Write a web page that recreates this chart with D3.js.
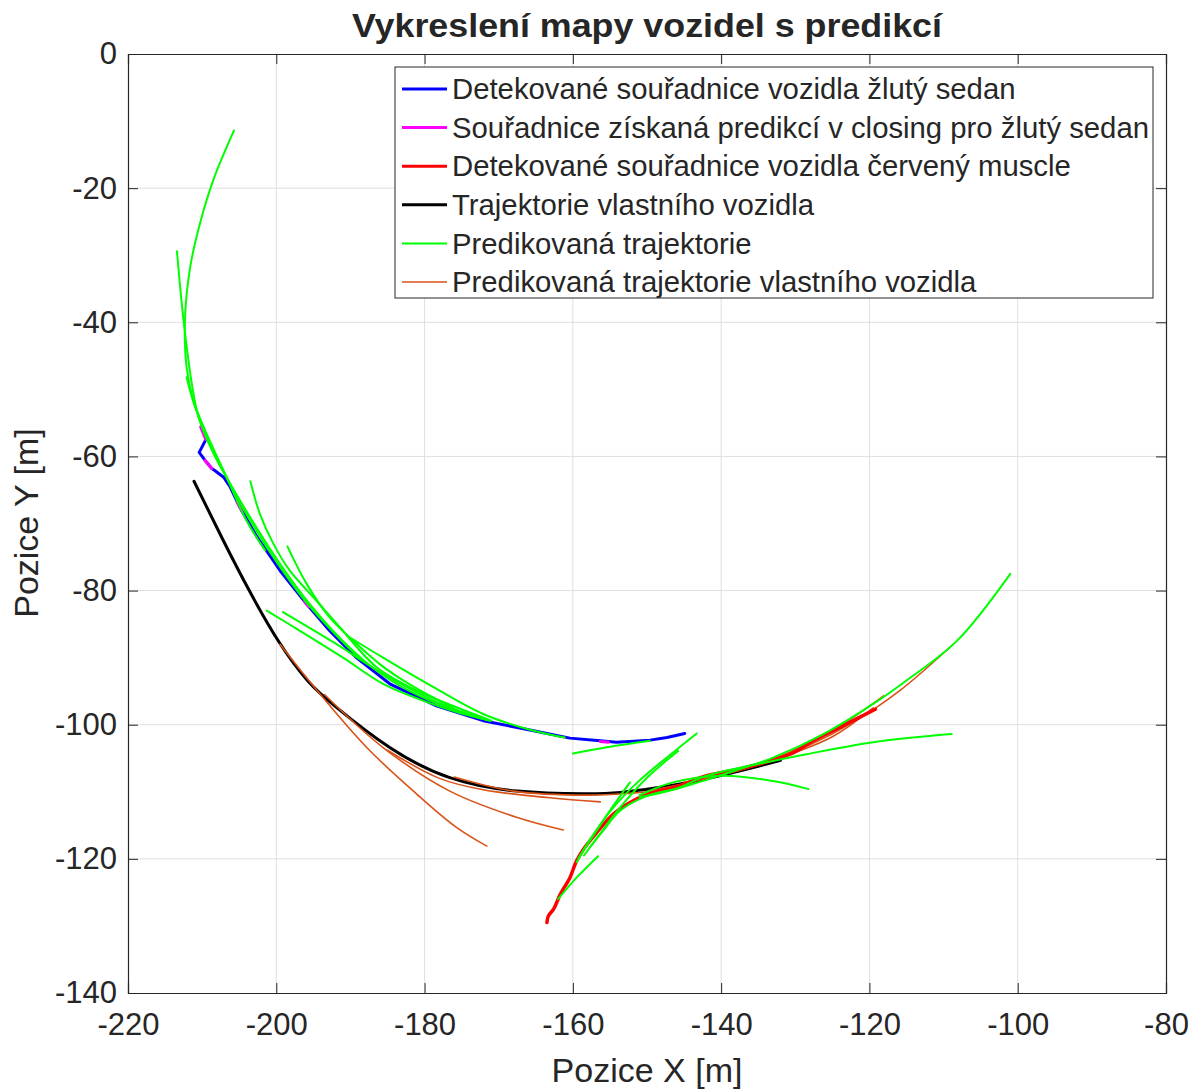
<!DOCTYPE html>
<html>
<head>
<meta charset="utf-8">
<script src="https://cdn.jsdelivr.net/npm/d3@7"></script>
<style>
  body { margin: 0; background: #fff; }
  text { font-family: "Liberation Sans", Arial, sans-serif; fill: #262626; }
</style>
</head>
<body>
<svg id="chart"></svg>
<script>
var xTicks = [-220, -200, -180, -160, -140, -120, -100, -80];
var yTicks = [0, -20, -40, -60, -80, -100, -120, -140];

// detected yellow sedan
var blueTrack = [[-209.5,-57.5],[-210.4,-59.4],[-209.6,-60.6],[-208.7,-61.8],[-208.3,-62.1],[-207.1,-63.1],
  [-206.2,-64.6],[-204.9,-67.6],[-202.6,-72.0],[-199.5,-77.0],[-195.9,-82.0],[-192.8,-86.0],[-189.2,-90.0],
  [-184.7,-93.9],[-178.4,-97.2],[-172.1,-99.4],[-165.3,-100.9],[-160.4,-102.0],[-156.3,-102.4],[-154.1,-102.6],
  [-149.6,-102.3],[-147.3,-101.9],[-144.9,-101.3]];
// predicted pieces (closing)
var magentaPieces = [
  [[-210.2,-55.6],[-209.5,-57.5]],
  [[-209.6,-60.6],[-208.7,-61.8]],
  [[-205.3,-66.8],[-204.6,-68.2]],
  [[-196.2,-81.6],[-195.6,-82.4]],
  [[-156.3,-102.5],[-155.2,-102.6]]
];
// detected red muscle
var redTrack = [[-163.5,-129.5],[-163.3,-128.5],[-162.6,-127.5],[-161.7,-125.3],[-160.4,-122.8],[-159.5,-120.3],
  [-158.4,-118.3],[-156.8,-116.1],[-154.5,-113.3],[-151.8,-111.3],[-149.1,-110.1],[-145.5,-109.1],[-142.0,-107.6],
  [-137.5,-106.6],[-130.7,-104.4],[-127.6,-102.4],[-124.0,-100.4],[-119.2,-97.7]];
// own vehicle
var egoTrack = [[-211.1,-63.7],[-207.3,-72.2],[-203.5,-80.3],[-199.5,-87.9],[-195.8,-93.4],[-191.8,-97.5],
  [-184.7,-103.4],[-176.6,-107.9],[-167.5,-109.9],[-158.6,-110.3],[-153.6,-110.1],[-146.9,-109.1],
  [-140.2,-107.6],[-135.0,-106.2],[-132.0,-105.3]];

var greenPreds = [
  [[-205.7,-11.4],[-208.5,-18.8],[-210.3,-25.3],[-211.6,-31.7],[-212.3,-39.2],[-212.1,-46.7],[-211.2,-51.6],
   [-209.8,-55.6],[-206.7,-63.1],[-204.0,-69.6],[-201.5,-74.0]],
  [[-213.4,-29.4],[-212.8,-36.7],[-212.3,-41.7],[-211.4,-49.1],[-210.5,-54.1],[-208.5,-59.5],[-206.0,-64.5],
   [-203.0,-70.0],[-199.5,-76.0],[-195.5,-82.0],[-191.5,-87.0],[-187.0,-91.5],[-182.0,-95.0],[-176.0,-97.8],[-171.2,-99.4]],
  [[-212.1,-48.2],[-211.0,-52.5],[-209.0,-58.0],[-206.5,-63.5],[-203.0,-70.5],[-199.8,-76.0],[-196.5,-81.0],
   [-192.5,-86.0],[-188.7,-90.2]],
  [[-203.5,-63.7],[-202.2,-68.6],[-200.4,-73.0],[-198.2,-77.0],[-195.0,-81.0],[-191.4,-85.5],[-186.5,-91.4],
   [-181.1,-94.9],[-175.7,-97.4],[-171.0,-99.4]],
  [[-198.5,-73.4],[-195.9,-79.0],[-192.8,-84.0],[-189.6,-87.5],[-186.0,-91.0],[-182.0,-94.0],[-176.0,-97.6]],
  [[-190.5,-86.7],[-185.6,-90.0],[-178.8,-94.4],[-172.1,-98.4],[-165.3,-100.9],[-161.1,-101.9]],
  [[-201.3,-83.0],[-196.8,-86.0],[-191.0,-90.0],[-185.6,-93.9],[-180.2,-96.4],[-175.7,-98.1],[-171.5,-99.3]],
  [[-199.1,-83.2],[-192.3,-87.7],[-185.6,-92.4],[-178.8,-96.4],[-173.0,-98.8]],
  [[-160.0,-104.3],[-155.0,-103.3],[-149.6,-102.4]],
  [[-143.3,-101.3],[-147.0,-104.6],[-151.0,-108.3],[-154.5,-112.3],[-157.5,-116.8],[-159.5,-120.5]],
  [[-145.8,-103.9],[-150.0,-107.9],[-153.6,-112.3],[-156.5,-116.5],[-158.5,-119.5]],
  [[-152.3,-108.6],[-155.0,-112.8],[-157.7,-117.3],[-159.3,-120.0]],
  [[-156.6,-119.6],[-159.5,-122.8],[-162.0,-126.0]],
  [[-157.5,-118.0],[-155.9,-115.8],[-153.6,-112.8],[-150.0,-110.6],[-145.5,-109.4],[-139.7,-107.4],
   [-133.0,-104.9],[-126.2,-101.4],[-119.5,-96.9],[-115.0,-93.4],[-108.2,-87.5],[-101.0,-77.5]],
  [[-151.0,-110.8],[-146.0,-109.5],[-142.0,-107.6],[-135.2,-105.9],[-128.5,-104.4],[-119.5,-102.6],[-108.9,-101.4]],
  [[-151.0,-110.5],[-146.5,-108.6],[-139.7,-107.6],[-133.0,-108.4],[-128.2,-109.6]]
];

var orangePreds = [
  [[-199.5,-88.0],[-194.5,-94.9],[-187.8,-103.4],[-181.1,-110.3],[-175.7,-115.3],[-171.6,-118.1]],
  [[-193.5,-95.5],[-185.6,-103.4],[-176.6,-109.9],[-167.6,-113.8],[-161.3,-115.7]],
  [[-185.0,-103.8],[-178.0,-108.0],[-172.1,-109.7],[-163.1,-110.9],[-156.3,-111.5]],
  [[-176.0,-107.8],[-168.0,-109.9],[-158.0,-110.5],[-152.0,-110.2],[-146.9,-109.7]],
  [[-150.0,-110.0],[-142.0,-108.0],[-135.0,-106.0],[-128.0,-103.0],[-122.0,-99.5],[-116.0,-95.0],[-108.7,-88.0]],
  [[-145.0,-108.6],[-138.0,-106.8],[-131.0,-104.2],[-124.0,-100.2],[-118.1,-95.7]],
  [[-140.0,-107.5],[-132.0,-104.9],[-125.0,-101.8],[-119.5,-97.5]]
];

var legendLabels = [
  "Detekované souřadnice vozidla žlutý sedan",
  "Souřadnice získaná predikcí v closing pro žlutý sedan",
  "Detekované souřadnice vozidla červený muscle",
  "Trajektorie vlastního vozidla",
  "Predikovaná trajektorie",
  "Predikovaná trajektorie vlastního vozidla"
];
var legendColors = ["#0000ff", "#ff00ff", "#ff0000", "#000000", "#00ff00", "#d95319"];
var legendWidths = [3, 3, 3, 3, 2, 1.6];

var W = 1195, H = 1089;
var pLeft = 128, pRight = 1166, pTop = 54, pBottom = 993;

var svg = d3.select("#chart").attr("width", W).attr("height", H);

var x = d3.scaleLinear().domain([-220, -80]).range([pLeft, pRight]);
var y = d3.scaleLinear().domain([-140, 0]).range([pBottom, pTop]);

// grid
svg.append("g").selectAll("line").data(xTicks.slice(1, -1)).enter().append("line")
   .attr("x1", d => x(d)).attr("x2", d => x(d)).attr("y1", pTop).attr("y2", pBottom)
   .attr("stroke", "#dfdfdf").attr("stroke-width", 1);
svg.append("g").selectAll("line").data(yTicks.slice(1, -1)).enter().append("line")
   .attr("y1", d => y(d)).attr("y2", d => y(d)).attr("x1", pLeft).attr("x2", pRight)
   .attr("stroke", "#dfdfdf").attr("stroke-width", 1);

var line = d3.line().x(d => x(d[0])).y(d => y(d[1])).curve(d3.curveCatmullRom);
var smooth = d3.line().x(d => x(d[0])).y(d => y(d[1])).curve(d3.curveNatural);
var rough = d3.line().x(d => x(d[0])).y(d => y(d[1]));

var plot = svg.append("g").attr("fill", "none").attr("stroke-linecap", "round").attr("stroke-linejoin", "round");

plot.append("path").attr("d", smooth(egoTrack)).attr("stroke", "#000").attr("stroke-width", 3);
orangePreds.forEach(function(p) {
  plot.append("path").attr("d", line(p)).attr("stroke", "#d95319").attr("stroke-width", 1.6);
});
plot.append("path").attr("d", rough(blueTrack)).attr("stroke", "#0000ff").attr("stroke-width", 3);
magentaPieces.forEach(function(p) {
  plot.append("path").attr("d", rough(p)).attr("stroke", "#ff00ff").attr("stroke-width", 3);
});
plot.append("path").attr("d", line(redTrack)).attr("stroke", "#ff0000").attr("stroke-width", 3.5);
greenPreds.forEach(function(p) {
  plot.append("path").attr("d", line(p)).attr("stroke", "#00ff00").attr("stroke-width", 2);
});

// axes (ticks inside, box on)
var fmt = d => String(d);
var xb = svg.append("g").attr("transform", "translate(0," + pBottom + ")")
  .call(d3.axisBottom(x).tickValues(xTicks).tickSize(-10).tickPadding(19).tickFormat(fmt));
var xt = svg.append("g").attr("transform", "translate(0," + pTop + ")")
  .call(d3.axisTop(x).tickValues(xTicks).tickSize(-10).tickFormat(""));
var yl = svg.append("g").attr("transform", "translate(" + pLeft + ",0)")
  .call(d3.axisLeft(y).tickValues(yTicks).tickSize(-10).tickPadding(11).tickFormat(fmt));
var yr = svg.append("g").attr("transform", "translate(" + pRight + ",0)")
  .call(d3.axisRight(y).tickValues(yTicks).tickSize(-10).tickFormat(""));

[xb, xt, yl, yr].forEach(function(g) {
  g.selectAll(".domain").attr("stroke", "#262626").attr("stroke-width", 1.2);
  g.selectAll(".tick line").attr("stroke", "#262626");
  g.selectAll("text").attr("fill", "#262626").style("font-size", "31px")
   .style("font-family", "'Liberation Sans', Arial, sans-serif");
});
xb.selectAll("text").attr("dy", "0.75em");

// titles
svg.append("text").attr("x", 647).attr("y", 37).attr("text-anchor", "middle")
   .style("font-size", "34px").style("font-weight", "bold").attr("fill", "#000")
   .attr("textLength", 590).attr("lengthAdjust", "spacingAndGlyphs")
   .text("Vykreslení mapy vozidel s predikcí");
svg.append("text").attr("x", 647).attr("y", 1082).attr("text-anchor", "middle")
   .style("font-size", "34px").text("Pozice X [m]");
svg.append("text").attr("transform", "translate(38,523) rotate(-90)").attr("text-anchor", "middle")
   .style("font-size", "34px").text("Pozice Y [m]");

// legend
var lg = svg.append("g").attr("transform", "translate(395,67)");
lg.append("rect").attr("width", 758).attr("height", 231).attr("fill", "#fff")
  .attr("stroke", "#262626").attr("stroke-width", 1);
var rows = lg.selectAll("g.row").data(legendLabels).enter().append("g")
  .attr("transform", (d, i) => "translate(0," + (22 + i * 38.6) + ")");
rows.append("line").attr("x1", 7).attr("x2", 52).attr("y1", 0).attr("y2", 0)
  .attr("stroke", (d, i) => legendColors[i]).attr("stroke-width", (d, i) => legendWidths[i]);
rows.append("text").attr("x", 57).attr("y", 0).attr("dy", "0.35em")
  .style("font-size", "29.3px").attr("fill", "#000").text(d => d);
</script>
</body>
</html>
